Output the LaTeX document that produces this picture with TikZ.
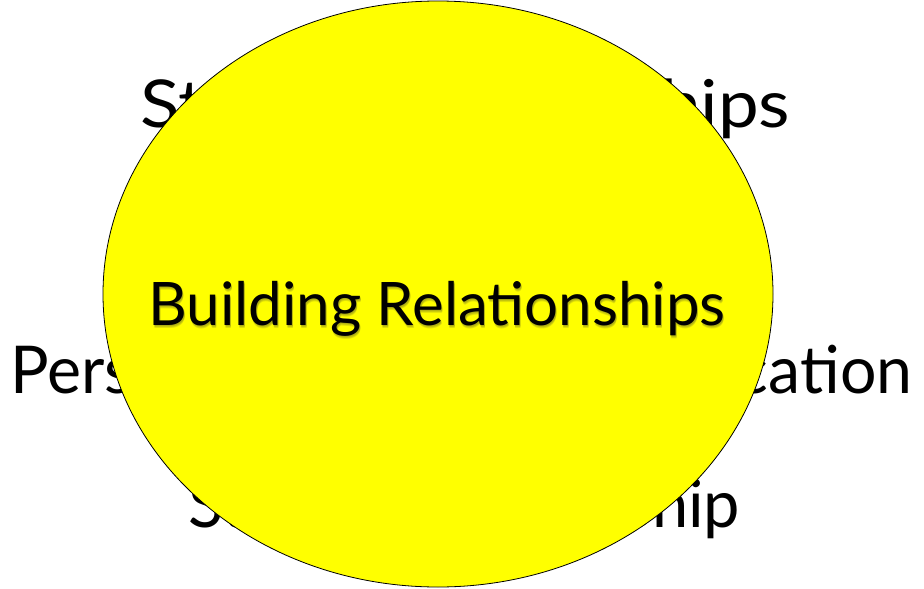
\documentclass[tikz,border=0pt]{standalone}
\usepackage{fontspec}
\setmainfont{Lato}
\usetikzlibrary{shapes.geometric}
\definecolor{ovalyellow}{RGB}{255,255,0}
\newcommand{\fitwidth}[2]{\resizebox{#1}{\height}{#2}}
\tikzset{
  backtext/.style={anchor=base west, inner sep=0pt, font=\fontsize{66}{70}\selectfont},
  maintext/.style={anchor=base, inner sep=0pt, font=\fontsize{60}{64}\selectfont},
}
\begin{document}
\begin{tikzpicture}[x=1pt, y=-1pt]
  \useasboundingbox (0,0) rectangle (924,589);
  % Words behind the oval
  \node[backtext] (strong) at (140,127) {\fitwidth{650pt}{Strong Relationships}};
  \node[backtext] (personal) at (10,393) {\fitwidth{902pt}{Personal Donor Communication}};
  \node[backtext] (steward) at (188,527) {\fitwidth{552pt}{Strong Stewardship}};
  % Oval
  \node[ellipse, draw, line width=0.8pt, fill=ovalyellow, inner sep=0pt,
        minimum width=670pt, minimum height=586pt] (oval) at (438,294) {};
  % Title with soft shadow
  \foreach \d in {1,2,3} {
    \node[maintext, opacity=0.15, text=black!80] at (438,325+\d) {Building Relationships};
  }
  \node[maintext] (building) at (437,325) {Building Relationships};
\end{tikzpicture}
\end{document}
